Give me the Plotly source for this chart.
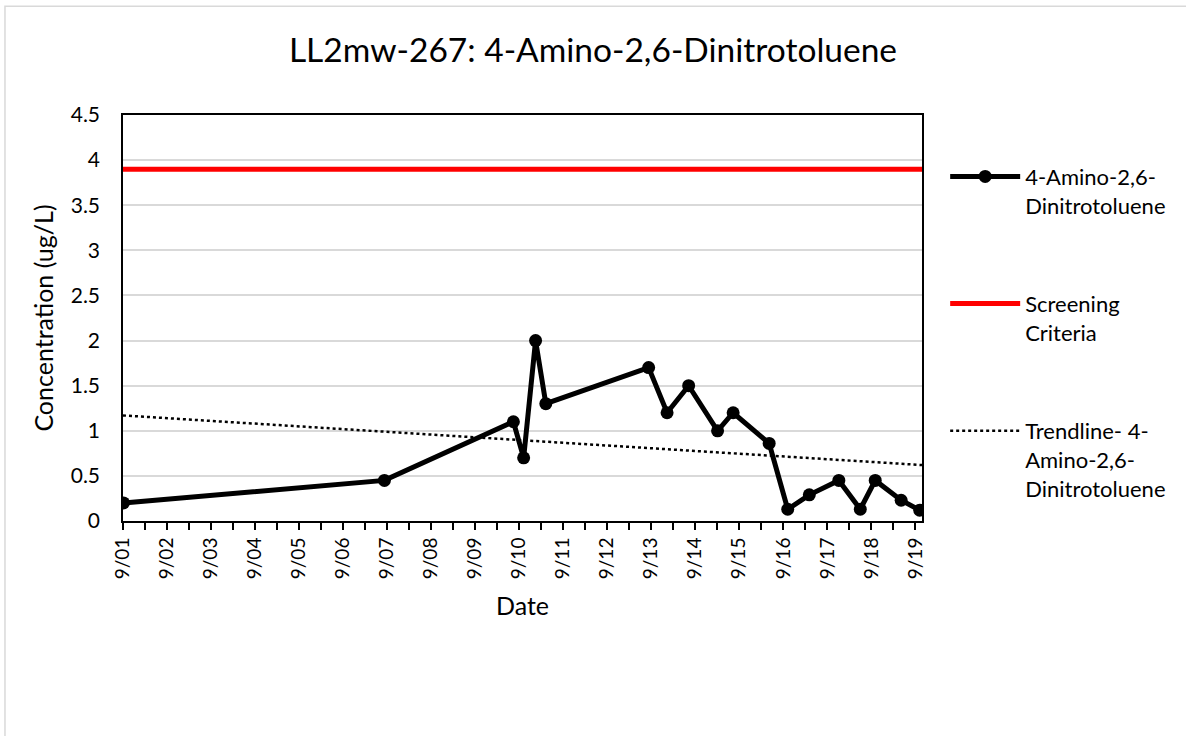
import plotly.graph_objects as go

# sample dates and 4-Amino-2,6-Dinitrotoluene results (ug/L)
sample_dates = [
    "2001-09-05", "2007-08-10", "2010-07-15", "2010-10-08", "2011-01-15",
    "2011-04-10", "2013-08-10", "2014-01-10", "2014-07-08", "2015-03-05",
    "2015-07-12", "2016-05-06", "2016-10-07", "2017-04-04", "2017-12-05",
    "2018-06-01", "2018-10-03", "2019-05-06", "2019-10-07",
]
concentration = [
    0.2, 0.45, 1.1, 0.7, 2.0,
    1.3, 1.7, 1.2, 1.5, 1.0,
    1.2, 0.86, 0.13, 0.29, 0.45,
    0.13, 0.45, 0.23, 0.12,
]

# screening criteria and linear trend, both spanning the full axis
axis_dates = ["2001-09-01", "2019-10-26"]
screening_criteria = [3.9, 3.9]
trend_values = [1.17, 0.62]

y_ticks = [0, 0.5, 1, 1.5, 2, 2.5, 3, 3.5, 4, 4.5]
y_labels = ["0", "0.5", "1", "1.5", "2", "2.5", "3", "3.5", "4", "4.5"]

FONT = "Lato, 'Open Sans', sans-serif"

fig = go.Figure()

fig.add_trace(go.Scatter(
    x=sample_dates, y=concentration,
    mode="lines+markers",
    name="4-Amino-2,6-<br>Dinitrotoluene",
    line=dict(color="black", width=5),
    marker=dict(color="black", size=13),
    legendgroup="a",
))
fig.add_trace(go.Scatter(
    x=axis_dates, y=screening_criteria,
    mode="lines",
    name="Screening<br>Criteria",
    line=dict(color="#FF0000", width=5),
    legendgroup="b",
))
fig.add_trace(go.Scatter(
    x=axis_dates, y=trend_values,
    mode="lines",
    name="Trendline- 4-<br>Amino-2,6-<br>Dinitrotoluene",
    line=dict(color="black", width=2.5, dash="dot"),
    legendgroup="c",
))

# light grey chart-area border (Excel style), only top and left edges visible
fig.add_shape(
    type="rect", xref="paper", yref="paper",
    x0=-0.1477, x1=1.36, y0=-0.56, y1=1.268,
    line=dict(color="#D9D9D9", width=1.5),
    fillcolor="rgba(0,0,0,0)", layer="below",
)

fig.update_layout(
    width=1186, height=736,
    margin=dict(l=123, r=264, t=115, b=215),
    paper_bgcolor="white", plot_bgcolor="white",
    font=dict(family=FONT, color="black", size=18),
    title=dict(
        text="LL2mw-267: 4-Amino-2,6-Dinitrotoluene",
        x=0.5, xanchor="center", y=0.932, yanchor="middle",
        font=dict(size=33.5, family=FONT),
    ),
    legend=dict(
        x=1.029, xanchor="left", y=0.90, yanchor="top",
        font=dict(size=22, family=FONT),
        itemwidth=70,
        tracegroupgap=67,
        traceorder="grouped",
        valign="top",
        bgcolor="rgba(0,0,0,0)",
    ),
    showlegend=True,
)

fig.update_xaxes(
    type="date",
    range=["2001-09-01", "2019-10-26"],
    tick0="2001-09-01", dtick="M12",
    tickformat="%-m/%y",
    tickangle=-90,
    ticks="outside", ticklen=7, tickwidth=1.5, tickcolor="black",
    minor=dict(ticks="outside", ticklen=7, tickwidth=1.5, tickcolor="black",
               dtick="M6", tick0="2001-09-01", showgrid=False),
    showgrid=False,
    showline=True, linecolor="black", linewidth=2, mirror=True,
    tickfont=dict(size=19),
    title=dict(text="Date", font=dict(size=25), standoff=19),
    zeroline=False,
)
fig.update_yaxes(
    range=[0, 4.5],
    tickvals=y_ticks, ticktext=y_labels,
    ticks="", ticklabelstandoff=17,
    showgrid=True, gridcolor="#D9D9D9", gridwidth=1.5,
    showline=True, linecolor="black", linewidth=1.5, mirror=True,
    tickfont=dict(size=21),
    title=dict(text="Concentration (ug/L)", font=dict(size=25), standoff=10),
    zeroline=False,
)

fig.write_html(
    "out.html",
    config={"displayModeBar": False},
    post_script="document.body.style.margin='0';",
)
